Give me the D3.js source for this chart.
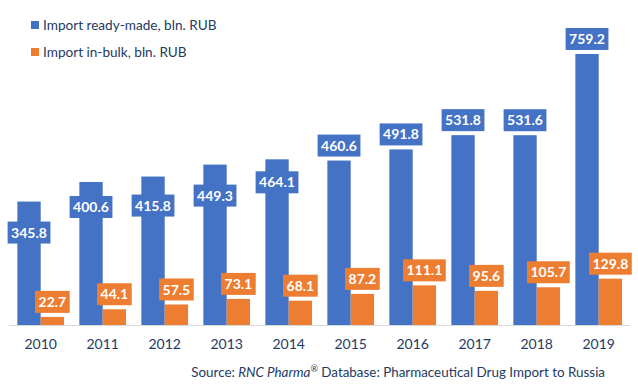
<!DOCTYPE html>
<html>
<head>
<meta charset="utf-8">
<script src="https://cdn.jsdelivr.net/npm/d3@7"></script>
<style>
  body { margin: 0; background: #fff; }
  text { font-family: Lato, "Open Sans", sans-serif; }
</style>
</head>
<body>
<script>
// chart data
var years = ['2010', '2011', '2012', '2013', '2014', '2015', '2016', '2017', '2018', '2019'];
var readyMade = [345.8, 400.6, 415.8, 449.3, 464.1, 460.6, 491.8, 531.8, 531.6, 759.2];
var inBulk = [22.7, 44.1, 57.5, 73.1, 68.1, 87.2, 111.1, 95.6, 105.7, 129.8];
var seriesNames = ['Import ready-made, bln. RUB', 'Import in-bulk, bln. RUB'];
// some blue labels were dragged down into their bars in the original
var blueLabelShift = [46, 40, 44, 46, 38, 0, 0, 0, 0, 0];

var width = 638, height = 386;
var blue = '#4472c4', orange = '#ed7d31', textCol = '#243a62';

var svg = d3.select('body').append('svg')
    .attr('width', width)
    .attr('height', height);

var x = d3.scaleBand()
    .domain(years)
    .range([9.7, 629.7])
    .paddingInner(0.247)
    .paddingOuter(0.1235);

var xs = d3.scaleBand()
    .domain([0, 1])
    .range([0, x.bandwidth()]);

var y = d3.scaleLinear()
    .domain([0, 800])
    .range([325, 39.4]);

// baseline
svg.append('line')
   .attr('x1', 9).attr('x2', 630)
   .attr('y1', y(0) + 0.5).attr('y2', y(0) + 0.5)
   .attr('stroke', '#d9d9d9')
   .attr('stroke-width', 1);

var series = [readyMade, inBulk];
var colors = [blue, orange];

series.forEach(function(vals, s) {
  svg.append('g').selectAll('rect')
     .data(vals)
     .enter()
     .append('rect')
     .attr('x', function(d, i) { return x(years[i]) + xs(s); })
     .attr('y', function(d) { return y(d); })
     .attr('width', xs.bandwidth())
     .attr('height', function(d) { return y(0) - y(d); })
     .attr('fill', colors[s]);
});

// data labels with filled boxes
series.forEach(function(vals, s) {
  var g = svg.append('g');
  vals.forEach(function(d, i) {
    var cx = x(years[i]) + xs(s) + xs.bandwidth() / 2;
    var cy = y(d) - 15 + (s === 0 ? blueLabelShift[i] : 0);
    var lg = g.append('g');
    var box = lg.append('rect').attr('fill', colors[s]);
    var t = lg.append('text')
       .attr('x', cx)
       .attr('y', cy)
       .attr('dy', '0.36em')
       .attr('text-anchor', 'middle')
       .attr('fill', '#fff')
       .attr('font-weight', 'bold')
       .attr('font-size', '14px')
       .text(d.toFixed(1));
    var w = t.node().getComputedTextLength() + 7;
    box.attr('x', cx - w / 2)
       .attr('y', cy - 11)
       .attr('width', w)
       .attr('height', 22);
  });
});

// x axis labels
svg.append('g').selectAll('text')
   .data(years)
   .enter()
   .append('text')
   .attr('x', function(d) { return x(d) + x.bandwidth() / 2; })
   .attr('y', 349)
   .attr('text-anchor', 'middle')
   .attr('font-size', '14px')
   .attr('fill', textCol)
   .text(function(d) { return d; });

// legend
var legend = svg.append('g');
seriesNames.forEach(function(name, i) {
  legend.append('rect')
     .attr('x', 31).attr('y', 21 + i * 27)
     .attr('width', 8).attr('height', 8)
     .attr('fill', colors[i]);
  legend.append('text')
     .attr('x', 43).attr('y', 25 + i * 27)
     .attr('dy', '0.36em')
     .attr('font-size', '13.6px')
     .attr('fill', textCol)
     .text(name);
});

// source note
var src = svg.append('text')
   .attr('x', 605).attr('y', 377)
   .attr('text-anchor', 'end')
   .attr('font-size', '13.4px')
   .attr('fill', textCol);
src.append('tspan').text('Source: ');
src.append('tspan').attr('font-style', 'italic').text('RNC Pharma');
src.append('tspan').attr('font-size', '9px').attr('dy', '-5').text('®');
src.append('tspan').attr('dy', '5').text(' Database: Pharmaceutical Drug Import to Russia');
</script>
</body>
</html>
